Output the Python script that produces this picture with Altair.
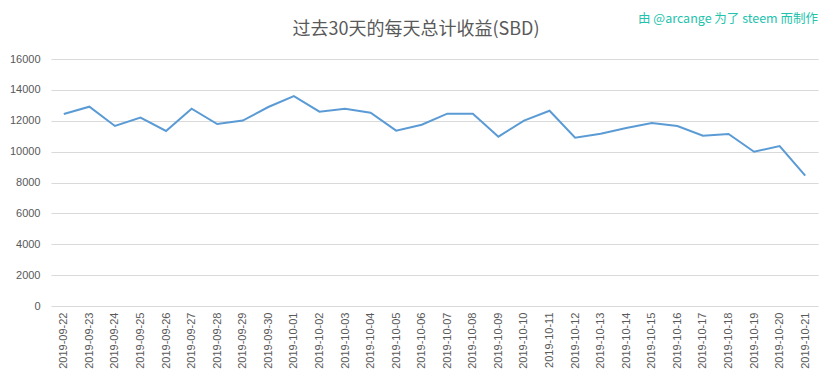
import altair as alt
import pandas as pd

dates = ["2019-09-22", "2019-09-23", "2019-09-24", "2019-09-25", "2019-09-26",
         "2019-09-27", "2019-09-28", "2019-09-29", "2019-09-30", "2019-10-01",
         "2019-10-02", "2019-10-03", "2019-10-04", "2019-10-05", "2019-10-06",
         "2019-10-07", "2019-10-08", "2019-10-09", "2019-10-10", "2019-10-11",
         "2019-10-12", "2019-10-13", "2019-10-14", "2019-10-15", "2019-10-16",
         "2019-10-17", "2019-10-18", "2019-10-19", "2019-10-20", "2019-10-21"]
values = [12440, 12910, 11660, 12200, 11340,
          12780, 11790, 12010, 12890, 13600,
          12590, 12780, 12520, 11360, 11745,
          12460, 12460, 10970, 12010, 12650,
          10900, 11160, 11530, 11855, 11660,
          11030, 11140, 9995, 10365, 8440]
y_ticks = [0, 2000, 4000, 6000, 8000, 10000, 12000, 14000, 16000]
title_text = "过去30天的每天总计收益(SBD)"
credit_text = "由 @arcange 为了 steem 而制作"

df = pd.DataFrame({"date": dates, "value": values})
W, H = 767, 247

line = alt.Chart(df).mark_line(color="#5b9bd5", strokeWidth=2).encode(
    x=alt.X("date:O", sort=None,
            scale=alt.Scale(type="point", padding=0.5),
            axis=alt.Axis(title=None, labelAngle=-90, labelAlign="right",
                          labelBaseline="middle", labelPadding=6, ticks=False,
                          domain=False, grid=False, labelColor="#595959",
                          labelFontSize=11, labelFont="Liberation Sans")),
    y=alt.Y("value:Q", scale=alt.Scale(domain=[0, 16000], nice=False),
            axis=alt.Axis(title=None, values=y_ticks, format="d", ticks=False,
                          domain=False, grid=True, gridColor="#d9d9d9",
                          gridWidth=1, labelPadding=11, labelColor="#595959",
                          labelFontSize=11, labelFont="Liberation Sans")),
)

one = pd.DataFrame({"t": [title_text], "c": [credit_text]})
title = alt.Chart(one).mark_text(
    fontSize=18, color="#595959", font="Noto Sans CJK SC", align="center",
    baseline="middle").encode(text="t:N", x=alt.value(365), y=alt.value(-29))
credit = alt.Chart(one).mark_text(
    fontSize=12.5, color="#22c3ad", font="Noto Sans CJK SC", align="right",
    baseline="middle").encode(text="c:N", x=alt.value(767), y=alt.value(-40))

chart = alt.layer(line, title, credit).properties(
    width=W, height=H,
    autosize=alt.AutoSizeParams(type="none"),
    padding={"left": 43, "top": 51, "right": 7, "bottom": 65},
).configure_view(stroke=None)

chart.save("out.html", embed_options={"renderer": "svg", "actions": False})
